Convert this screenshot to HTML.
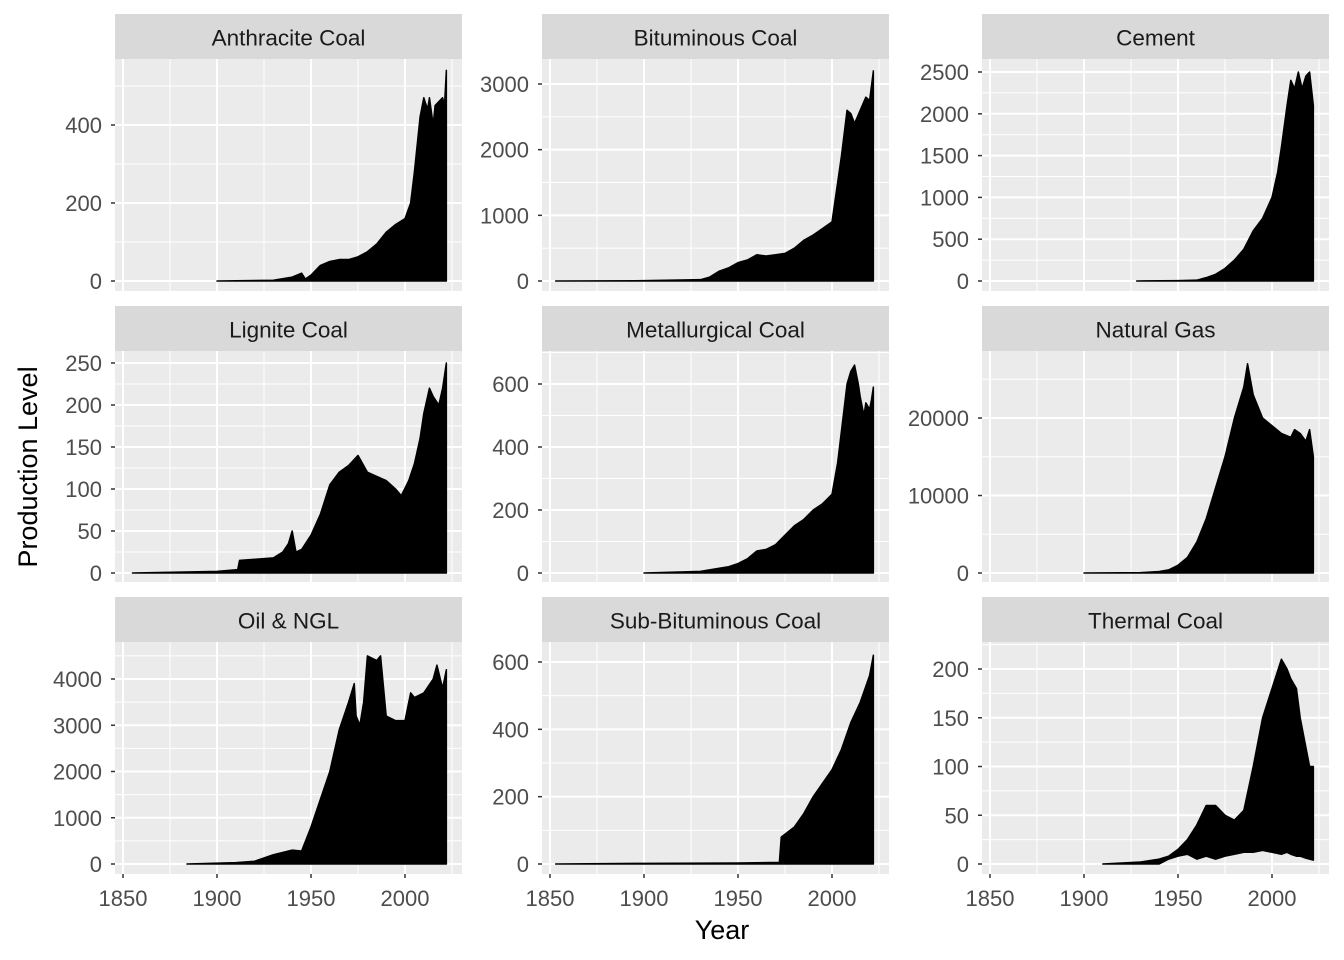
<!DOCTYPE html>
<html><head><meta charset="utf-8">
<style>
body{margin:0;background:#fff;}
svg{display:block;font-family:"Liberation Sans",Arial,sans-serif;}
</style></head>
<body>
<svg id="chart" width="1344" height="960" viewBox="0 0 1344 960" xmlns="http://www.w3.org/2000/svg"></svg>
<script>
const titles=["Anthracite Coal","Bituminous Coal","Cement","Lignite Coal","Metallurgical Coal","Natural Gas","Oil & NGL","Sub-Bituminous Coal","Thermal Coal"];
const xTicks=[1850,1900,1950,2000];
const yTicks=[[0,200,400],[0,1000,2000,3000],[0,500,1000,1500,2000,2500],[0,50,100,150,200,250],[0,200,400,600],[0,10000,20000],[0,1000,2000,3000,4000],[0,200,400,600],[0,50,100,150,200]];
const yMax=[[400],[3000],[2500],[250],[600],[20000],[4000],[600],[200]];
const years=[
[1900,1930,1940,1945,1947,1950,1955,1960,1965,1970,1975,1980,1985,1990,1995,2000,2003,2005,2008,2010,2012,2013,2015,2016,2018,2020,2021,2022],
[1853,1900,1930,1935,1940,1945,1950,1955,1960,1965,1970,1975,1980,1985,1990,1995,2000,2003,2005,2008,2010,2012,2015,2018,2020,2022],
[1928,1950,1960,1965,1970,1975,1980,1985,1990,1995,2000,2003,2005,2008,2010,2012,2014,2016,2018,2020,2022],
[1855,1900,1911,1912,1930,1935,1938,1940,1942,1945,1950,1955,1960,1965,1970,1975,1980,1985,1990,1995,1998,2002,2005,2008,2010,2013,2015,2018,2020,2022],
[1900,1930,1940,1945,1950,1955,1960,1965,1970,1975,1980,1985,1990,1995,2000,2003,2005,2008,2010,2012,2014,2015,2017,2018,2020,2021,2022],
[1900,1930,1940,1945,1950,1955,1960,1965,1970,1975,1980,1985,1987,1990,1995,2000,2005,2010,2012,2015,2018,2020,2022],
[1884,1910,1920,1930,1940,1945,1950,1955,1960,1965,1970,1973,1974,1976,1978,1980,1985,1987,1990,1995,2000,2003,2005,2010,2015,2017,2020,2022],
[1853,1900,1950,1972,1973,1980,1985,1990,1995,2000,2005,2010,2015,2020,2022],
[1910,1930,1940,1945,1950,1955,1960,1965,1970,1975,1980,1985,1990,1995,2000,2005,2008,2010,2013,2015,2018,2020,2022]];
const upper=[
[0,2,10,20,5,15,40,50,55,55,62,75,95,125,145,160,200,280,420,470,440,470,400,450,460,470,450,540],
[0,5,20,60,150,200,280,320,400,380,400,420,500,620,700,800,900,1500,1900,2600,2550,2400,2600,2800,2750,3200],
[0,5,10,40,80,150,250,380,600,750,1000,1300,1600,2100,2400,2300,2500,2300,2450,2500,2100],
[0,2,4,15,18,25,35,50,25,28,45,70,105,120,128,140,120,115,110,100,92,110,130,160,190,220,210,200,220,250],
[0,5,15,20,30,45,70,75,90,120,150,170,200,220,250,350,450,600,640,660,600,560,500,540,520,550,590],
[0,50,200,400,1000,2000,4000,7000,11000,15000,20000,24000,27000,23000,20000,19000,18000,17500,18500,18000,17000,18500,15000],
[0,30,60,200,300,280,800,1400,2000,2900,3500,3900,3200,3000,3500,4500,4400,4500,3200,3100,3100,3700,3600,3700,4000,4300,3800,4200],
[0,2,3,5,80,110,150,200,240,280,340,420,480,560,620],
[0,2,5,8,15,25,40,60,60,50,45,55,100,150,180,210,200,190,180,150,120,100,100]];
const lower=[
[],[],[],[],[],[],[],[],
[0,0,0,5,8,10,5,8,5,8,10,12,12,14,12,10,12,10,8,8,6,5,4]];
const svg=document.getElementById('chart');
const NS='http://www.w3.org/2000/svg';
function mk(t,a,p){const e=document.createElementNS(NS,t);for(const k in a)e.setAttribute(k,a[k]);(p||svg).appendChild(e);return e;}
const colX=[[115,462],[542,889],[982,1329]];
const rowY=[[14,59,291],[306,351,582],[597,642,874]];
const y0Pix=[281,573,864];
const yTopPix=[[125,84,72],[363,384,418],[679,662,669]];
for(let i=0;i<9;i++){
  const c=i%3,r=Math.floor(i/3);
  const [x1,x2]=colX[c];const [s1,p1,p2]=rowY[r];
  const g=mk('g',{});
  
  
  const xs=v=>x1+8+(v-1850)*94/50;
  const vmax=yMax[i][0];
  const ys=v=>y0Pix[r]-(v/vmax)*(y0Pix[r]-yTopPix[r][c]);
  const strip=mk('rect',{x:x1,y:s1,width:x2-x1,height:p1-s1,fill:'#d9d9d9'},g);
  
  const st=mk('text',{x:(x1+x2)/2,y:(s1+p1)/2+9,'text-anchor':'middle','font-size':'22.5',fill:'#1a1a1a'},g);
  st.textContent=titles[i];
  
  const bg=mk('rect',{x:x1,y:p1,width:x2-x1,height:p2-p1,fill:'#ebebeb'},g);
  
  for(let k=0;k<xTicks.length;k++){const m=xTicks[k]+25;const x=xs(m);if(x<x2)mk('line',{x1:x,x2:x,y1:p1,y2:p2,stroke:'#fff','stroke-width':1},g);}
  const yt=yTicks[i];const step=yt[1]-yt[0];
  for(let v=-step/2;;v+=step){const y=ys(v);if(y<p1)break;if(y<=p2)mk('line',{x1:x1,x2:x2,y1:y,y2:y,stroke:'#fff','stroke-width':1},g);}
  xTicks.forEach(t=>{const x=xs(t);mk('line',{x1:x,x2:x,y1:p1,y2:p2,stroke:'#fff','stroke-width':2},g);});
  yt.forEach(t=>{const y=ys(t);mk('line',{x1:x1,x2:x2,y1:y,y2:y,stroke:'#fff','stroke-width':2},g);
    mk('line',{x1:x1-4,x2:x1,y1:y,y2:y,stroke:'#333','stroke-width':1.5},g);
    const tl=mk('text',{x:x1-13,y:y+8,'text-anchor':'end','font-size':'22',fill:'#4d4d4d'},g);tl.textContent=t;
    });
  const yr=years[i],up=upper[i],lo=lower[i];
  let d='M'+xs(yr[0])+','+ys(up[0]);
  for(let k=1;k<yr.length;k++)d+='L'+xs(yr[k])+','+ys(up[k]);
  for(let k=yr.length-1;k>=0;k--)d+='L'+xs(yr[k])+','+ys(lo.length?lo[k]:0);
  d+='Z';
  const ar=mk('path',{d:d,fill:'#000',stroke:'#000','stroke-width':1.5,'stroke-linejoin':'round'},g);
  
  if(r===2){xTicks.forEach(t=>{const x=xs(t);mk('line',{x1:x,x2:x,y1:p2,y2:p2+4,stroke:'#333','stroke-width':1.5},g);
    const tl=mk('text',{x:x,y:p2+32,'text-anchor':'middle','font-size':'22',fill:'#4d4d4d'},g);tl.textContent=t;
    });}
}
const xt=mk('text',{x:722,y:939,'text-anchor':'middle','font-size':'27',fill:'#000'});xt.textContent='Year';

const yT=mk('text',{x:0,y:0,'text-anchor':'middle','font-size':'27',fill:'#000',transform:'translate(37,467) rotate(-90)'});yT.textContent='Production Level';

</script>
</body></html>
